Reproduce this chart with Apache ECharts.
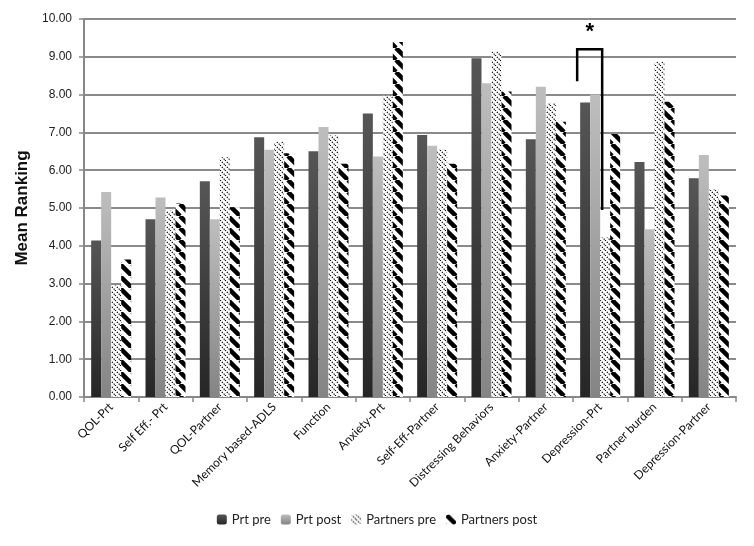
<!DOCTYPE html>
<html>
<head>
<meta charset="utf-8">
<script src="https://cdn.jsdelivr.net/npm/echarts@6/dist/echarts.min.js"></script>
<style>
  html, body { margin: 0; padding: 0; background: #fff; }
  #chart { width: 754px; height: 546px; }
</style>
</head>
<body>
<div id="chart"></div>
<script>
const categories = [
  "QOL-Prt", "Self Eff.- Prt", "QOL-Partner", "Memory based-ADLS", "Function", "Anxiety-Prt",
  "Self-Eff-Partner", "Distressing Behaviors", "Anxiety-Partner", "Depression-Prt", "Partner burden", "Depression-Partner",
];
const prtPre = [4.14, 4.70, 5.71, 6.87, 6.50, 7.50, 6.93, 8.96, 6.82, 7.79, 6.22, 5.79];
const prtPost = [5.42, 5.28, 4.70, 6.54, 7.14, 6.36, 6.65, 8.30, 8.21, 8.00, 4.44, 6.40];
const partnersPre = [2.95, 4.93, 6.34, 6.76, 6.92, 7.97, 6.54, 9.14, 7.77, 4.22, 8.87, 5.49];
const partnersPost = [3.64, 5.12, 5.02, 6.45, 6.17, 9.39, 6.17, 8.08, 7.28, 6.96, 7.81, 5.33];

// significance bracket on Depression-Prt (y values)
const bracketCategory = "Depression-Prt";
const bracketTop = 9.2;
const bracketLeftEnd = 8.35;
const bracketRightEnd = 4.95;

function stripePattern(size, lineWidth, dash) {
  const c = document.createElement("canvas");
  c.width = size;
  c.height = size;
  const ctx = c.getContext("2d");
  ctx.fillStyle = "#fff";
  ctx.fillRect(0, 0, size, size);
  ctx.strokeStyle = "#000";
  ctx.lineWidth = lineWidth;
  if (dash) ctx.setLineDash(dash);
  for (let off = -size; off <= size; off += size) {
    ctx.beginPath();
    ctx.moveTo(off, 0);
    ctx.lineTo(off + size, size);
    ctx.stroke();
  }
  return { image: c, repeat: "repeat" };
}

const grad = (top, bottom) =>
  new echarts.graphic.LinearGradient(0, 0, 0, 1, [
    { offset: 0, color: top },
    { offset: 1, color: bottom },
  ]);

const chart = echarts.init(document.getElementById("chart"));
const labelFont = "Lato, 'Liberation Sans', sans-serif";

chart.setOption({
  animation: false,
  backgroundColor: "#fff",
  grid: { left: 84, right: 18, top: 19, bottom: 149 },
  legend: {
    bottom: 15,
    left: "center",
    itemWidth: 10,
    itemHeight: 10,
    itemGap: 10,
    textStyle: { fontFamily: labelFont, fontSize: 13, color: "#222" },
    data: ["Prt pre", "Prt post", "Partners pre", "Partners post"],
  },
  xAxis: {
    type: "category",
    data: categories,
    axisLine: { lineStyle: { color: "#888", width: 2 } },
    axisTick: { show: true, length: 5, lineStyle: { color: "#888", width: 1.5 } },
    axisLabel: { rotate: 45, interval: 0, margin: 8, fontFamily: labelFont, fontSize: 12, color: "#111" },
  },
  yAxis: {
    type: "value",
    min: 0,
    max: 10,
    interval: 1,
    name: "Mean Ranking",
    nameLocation: "middle",
    nameGap: 52,
    nameTextStyle: { fontSize: 17, fontWeight: "bold", color: "#111", fontFamily: "'Liberation Sans', Arial, sans-serif" },
    axisLine: { show: true, lineStyle: { color: "#888", width: 2 } },
    axisTick: { show: true, length: 5, lineStyle: { color: "#888", width: 1.5 } },
    splitLine: { lineStyle: { color: "#8a8a8a", width: 2 } },
    axisLabel: {
      formatter: (v) => v.toFixed(2),
      margin: 12,
      fontSize: 12,
      color: "#222",
      fontFamily: "'Liberation Sans', Arial, sans-serif",
    },
  },
  series: [
    { name: "Prt pre", type: "bar", data: prtPre, barWidth: 10, barGap: "0%", itemStyle: { color: grad("#565656", "#262626") } },
    { name: "Prt post", type: "bar", data: prtPost, barWidth: 10, barGap: "0%", itemStyle: { color: grad("#bebebe", "#848484") } },
    { name: "Partners pre", type: "bar", data: partnersPre, barWidth: 10, barGap: "0%", itemStyle: { color: stripePattern(5, 1.2, [1.3, 1.3]) } },
    { name: "Partners post", type: "bar", data: partnersPost, barWidth: 10, barGap: "0%", itemStyle: { color: stripePattern(12, 4.5) } },
  ],
});

function drawBracket() {
  const cx = chart.convertToPixel({ xAxisIndex: 0 }, bracketCategory);
  const yTop = chart.convertToPixel({ yAxisIndex: 0 }, bracketTop);
  const yL = chart.convertToPixel({ yAxisIndex: 0 }, bracketLeftEnd);
  const yR = chart.convertToPixel({ yAxisIndex: 0 }, bracketRightEnd);
  const xL = cx - 23;
  const xR = cx + 2;
  chart.setOption({
    graphic: [
      {
        type: "polyline",
        shape: { points: [[xL, yL], [xL, yTop], [xR, yTop], [xR, yR]] },
        style: { stroke: "#000", lineWidth: 2.5, fill: null },
      },
      {
        type: "text",
        x: (xL + xR) / 2,
        y: yTop - 6,
        style: { text: "*", fontSize: 22, fontWeight: "bold", fill: "#000", align: "center", verticalAlign: "bottom" },
      },
    ],
  });
}
drawBracket();
</script>
</body>
</html>
